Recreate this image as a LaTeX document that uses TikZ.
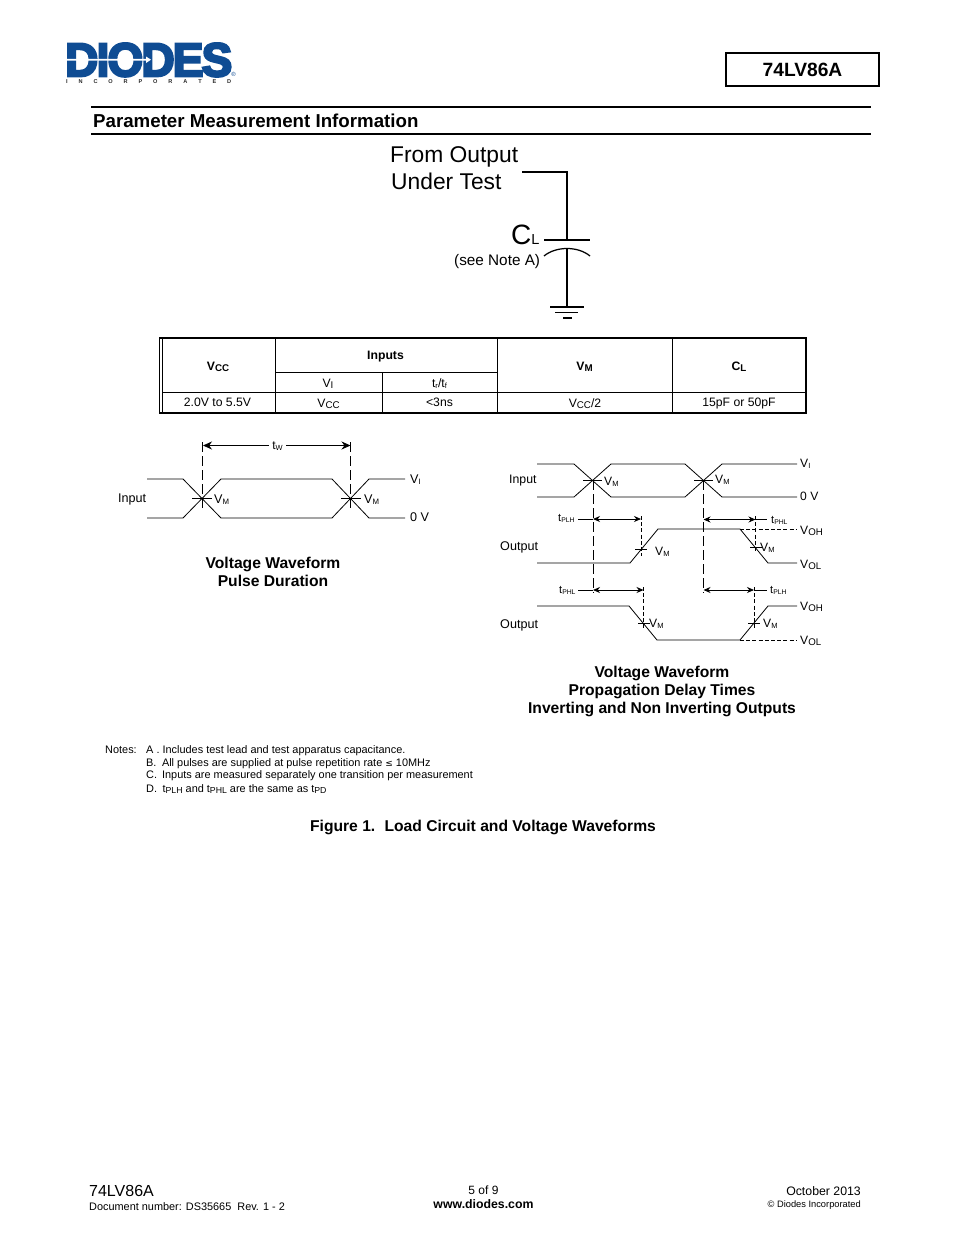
\documentclass[tikz,border=0pt]{standalone}
\usepackage{fontspec}
\usepackage{graphicx}
\setmainfont{Liberation Sans}
\newfontfamily\logofont[FakeBold=5,LetterSpace=-4]{Liberation Sans Bold}
\usetikzlibrary{arrows.meta}
\definecolor{logoblue}{HTML}{0F4C93}
\definecolor{logogrey}{HTML}{2A2A2A}
\newcommand{\fs}[1]{\fontsize{#1}{#1}\selectfont}
\newcommand{\sbs}[1]{\raisebox{-0.12em}{\scalebox{.62}{#1}}}
\newcommand{\sbl}[1]{\raisebox{-0.12em}{\scalebox{.8}{#1}}}
\newcommand{\tsb}[1]{\raisebox{-0.12em}{\scalebox{.8}{#1}}}
\tikzset{
  lt/.style={anchor=base west,inner sep=0pt,text=black},
  ct/.style={anchor=base,inner sep=0pt,text=black},
  rt/.style={anchor=base east,inner sep=0pt,text=black},
  wave/.style={draw=black,line width=.8pt,line join=miter},
  wire/.style={draw=black,line width=1.25pt},
  grid/.style={draw=black,line width=.8pt},
  frame/.style={draw=black,line width=1.5pt},
  rule/.style={draw=black,line width=1.3pt},
  longdash/.style={draw=black,line width=.8pt,dash pattern=on 10pt off 4pt},
  shortdash/.style={draw=black,line width=.8pt,dash pattern=on 4pt off 2.2pt},
  dim/.style={draw=black,line width=.8pt,{Stealth[length=7pt,width=6pt]}-{Stealth[length=7pt,width=6pt]}},
  lbl/.style={font=\fs{12.6}},
  slbl/.style={font=\fs{12.1}},
  cell/.style={font=\fs{12.2}},
  bcell/.style={font=\fs{12.2}\bfseries},
  capt/.style={font=\fs{15.65}\bfseries},
  note/.style={font=\fs{10.92}},
}
\begin{document}
\begin{tikzpicture}[x=1pt,y=-1pt]
\useasboundingbox (0,0) rectangle (954,1235);
\fill[white] (0,0) rectangle (954,1235);

% logo
\node[anchor=north west,inner sep=0pt,text=logoblue] (logo) at (65,43) {\resizebox{167pt}{33pt}{\logofont DIODES}};
\fill[white] (66,58.8) -- (146,58.8) -- (146,56.5) -- (151,59.7) -- (146,63) -- (146,60.6) -- (66,60.6) -- cycle;
\node[anchor=north west,inner sep=0pt,text=logogrey,font=\fs{5.6}\bfseries] (inc) at (66,79) {\makebox[165pt][s]{I\hfill N\hfill C\hfill O\hfill R\hfill P\hfill O\hfill R\hfill A\hfill T\hfill E\hfill D}};
\node[anchor=center,inner sep=0pt,text=logoblue,font=\fs{6}] (reg) at (233.5,74) {®};

% header
\node[draw=black,line width=1.3pt,minimum width=153pt,minimum height=33pt,inner sep=0pt,font=\fs{19.2}\bfseries] (part) at (802.5,69.5) {74LV86A};
\coordinate (r1a) at (91,107); \coordinate (r1b) at (871,107);
\coordinate (r2a) at (91,134); \coordinate (r2b) at (871,134);
\draw[rule] (r1a) -- (r1b);
\draw[rule] (r2a) -- (r2b);
\node[lt,font=\fs{18.7}\bfseries] (head) at (93,127) {Parameter Measurement Information};

% load circuit
\node[lt,font=\fs{22.8}] (from) at (390,162) {From Output};
\node[lt,font=\fs{22.8}] (under) at (391,189) {Under Test};
\node[lt,font=\fs{28}] (cl) at (511,244) {C\raisebox{0pt}{\fs{14.5}L}};
\node[lt,font=\fs{15.3}] (see) at (454,265) {(see Note A)};
\coordinate (w0) at (522,172); \coordinate (w1) at (567,172); \coordinate (pl) at (567,240);
\coordinate (pa) at (544,240); \coordinate (pb) at (590,240);
\coordinate (ca) at (544,256); \coordinate (cb) at (590,256); \coordinate (cm) at (567,248); \coordinate (gn) at (567,307);
\draw[wire] (w0) -- (w1) -- (pl);
\draw[wire] (pa) -- (pb);
\draw[wire] (ca) .. controls (556,246) and (578,246) .. (cb);
\draw[wire] (cm) -- (gn);
\draw[wire] (550,307) -- (584,307);
\draw[draw=black,line width=1pt] (555,312.5) -- (578,312.5);
\draw[wire] (563,318) -- (572,318);

% table
\draw[frame] (159.5,338) rectangle (806,413);
\draw[grid] (162,338) -- (162,413);
\draw[grid] (275.5,338) -- (275.5,413);
\draw[grid] (382,372) -- (382,413);
\draw[grid] (497,338) -- (497,413);
\draw[grid] (672,338) -- (672,413);
\draw[grid] (275.5,372) -- (497,372);
\draw[grid] (162,392) -- (806,392);
\node[ct,bcell] (t1) at (218,370.5) {V\tsb{CC}};
\node[ct,bcell] (t2) at (385.5,359) {Inputs};
\node[ct,bcell] (t3) at (584.5,370.5) {V\tsb{M}};
\node[ct,bcell] (t4) at (739,370.5) {C\tsb{L}};
\node[ct,cell] (t5) at (328,387) {V\tsb{I}};
\node[ct,cell] (t6) at (439.5,387) {t\sbs{r}/t\sbs{f}};
\node[ct,cell] (t7) at (217.5,406) {2.0V to 5.5V};
\node[ct,cell] (t8) at (328.5,407) {V\tsb{CC}};
\node[ct,cell] (t9) at (439.5,406) {<3ns};
\node[ct,cell] (t10) at (585,407) {V\tsb{CC}/2};
\node[ct,cell] (t11) at (739,406) {15pF or 50pF};

% pulse duration waveform
\draw[wave] (147,479) -- (183,479) -- (221,518) -- (332,518) -- (369,479) -- (405,479);
\draw[wave] (147,518) -- (183,518) -- (221,479) -- (332,479) -- (369,518) -- (405,518);
\draw[wave] (192,498.5) -- (212,498.5);
\draw[wave] (341,498.5) -- (361,498.5);
\draw[longdash] (202.5,442) -- (202.5,510);
\draw[longdash] (350.5,442) -- (350.5,510);
\node[ct,font=\fs{12}] (tw) at (277.5,449) {t\sbs{W}};
\coordinate (d1a) at (203,445.5); \coordinate (d1b) at (269,445.5);
\coordinate (d2a) at (286,445.5); \coordinate (d2b) at (350.5,445.5);
\draw[draw=black,line width=.8pt,{Stealth[length=9pt,width=8pt]}-] (d1a) -- (d1b);
\draw[draw=black,line width=.8pt,-{Stealth[length=9pt,width=8pt]}] (d2a) -- (d2b);
\node[lt,lbl] (in1) at (118,502) {Input};
\node[lt,lbl] (vm1) at (214,503) {V\sbs{M}};
\node[lt,lbl] (vm2) at (364,503) {V\sbs{M}};
\node[lt,lbl] (vi1) at (410,483) {V\sbs{I}};
\node[lt,lbl] (ov1) at (410,521) {0 V};
\node[ct,capt] (c1) at (273,568) {Voltage Waveform};
\node[ct,capt] (c2) at (273,586) {Pulse Duration};

% propagation delay waveform
\draw[wave] (537,464) -- (574,464) -- (611,497) -- (685,497) -- (722,464) -- (797,464);
\draw[wave] (537,497) -- (574,497) -- (611,464) -- (685,464) -- (722,497) -- (797,497);
\draw[wave] (583,480.5) -- (602,480.5);
\draw[wave] (694,480.5) -- (713,480.5);
\draw[longdash] (593,480) -- (593,593);
\draw[longdash] (703.5,480) -- (703.5,593);
\draw[wave] (537,563) -- (630,563) -- (658,529) -- (740,529) -- (768,563) -- (797,563);
\draw[shortdash] (740,529) -- (797,529);
\draw[wave] (537,606) -- (629,606) -- (657,640) -- (740,640) -- (768,606) -- (797,606);
\draw[shortdash] (740,640) -- (797,640);
\draw[wave] (635,549) -- (647,549);
\draw[wave] (750,547) -- (762,547);
\draw[wave] (638,623) -- (650,623);
\draw[wave] (748,623) -- (760,623);
\draw[shortdash] (641,516) -- (641,556);
\draw[shortdash] (755.5,516) -- (755.5,553);
\draw[shortdash] (643.5,587) -- (643.5,629);
\draw[shortdash] (754,587) -- (754,629);
\coordinate (p1a) at (593,519); \coordinate (p1b) at (641,519);
\coordinate (p2a) at (703.5,519.5); \coordinate (p2b) at (755.5,519.5);
\coordinate (p3a) at (593,590); \coordinate (p3b) at (643.5,590);
\coordinate (p4a) at (703.5,590); \coordinate (p4b) at (754,590);
\draw[dim] (p1a) -- (p1b);
\draw[dim] (p2a) -- (p2b);
\draw[dim] (p3a) -- (p3b);
\draw[dim] (p4a) -- (p4b);
\draw[wave] (578,519) -- (593,519);
\draw[wave] (578,590) -- (593,590);
\draw[wave] (755.5,519.5) -- (767,519.5);
\draw[wave] (754,590) -- (767,590);
\node[lt,font=\fs{12.3}] (in2) at (509,483) {Input};
\node[lt,font=\fs{12.6}] (o1) at (500,550) {Output};
\node[lt,font=\fs{12.6}] (o2) at (500,628) {Output};
\node[lt,slbl] (vm3) at (604,485) {V\sbs{M}};
\node[lt,slbl] (vm4) at (715,483) {V\sbs{M}};
\node[lt,slbl] (vm5) at (655,555) {V\sbs{M}};
\node[lt,slbl] (vm6) at (760,551) {V\sbs{M}};
\node[lt,slbl] (vm7) at (649,627) {V\sbs{M}};
\node[lt,slbl] (vm8) at (763,627) {V\sbs{M}};
\node[lt,slbl] (vi2) at (800,467) {V\sbs{I}};
\node[lt,slbl] (ov2) at (800,500) {0 V};
\node[lt,slbl] (voh1) at (800,534) {V\sbl{OH}};
\node[lt,slbl] (vol1) at (800,568) {V\sbl{OL}};
\node[lt,slbl] (voh2) at (800,610) {V\sbl{OH}};
\node[lt,slbl] (vol2) at (800,644) {V\sbl{OL}};
\node[lt,slbl,font=\fs{11}] (tp1) at (558,521) {t\sbs{PLH}};
\node[lt,slbl,font=\fs{11}] (tp2) at (771,523) {t\sbs{PHL}};
\node[lt,slbl,font=\fs{11}] (tp3) at (559,593) {t\sbs{PHL}};
\node[lt,slbl,font=\fs{11}] (tp4) at (770,593) {t\sbs{PLH}};
\node[ct,capt] (c3) at (662,677) {Voltage Waveform};
\node[ct,capt] (c4) at (662,695) {Propagation Delay Times};
\node[ct,capt] (c5) at (662,713) {Inverting and Non Inverting Outputs};

% notes
\node[lt,note] (n0) at (105,753) {Notes:};
\node[lt,note] (n1) at (146,753) {A . Includes test lead and test apparatus capacitance.};
\node[lt,note] (n2) at (146,766) {B.\hspace{5.5pt}All pulses are supplied at pulse repetition rate {\fontspec{DejaVu Sans}\fs{9}≤} 10MHz};
\node[lt,note] (n3) at (146,778) {C.\hspace{5pt}Inputs are measured separately one transition per measurement};
\node[lt,note] (n4) at (146,792) {D.\hspace{5.5pt}t\sbl{PLH} and t\sbl{PHL} are the same as t\sbl{PD}};
\node[ct,font=\fs{15.65}\bfseries] (fig) at (483,831) {Figure 1.\hspace{3.5pt} Load Circuit and Voltage Waveforms};

% footer
\node[lt,font=\fs{16}] (f1) at (89,1196) {74LV86A};
\node[lt,font=\fs{10.9}] (f2) at (89,1210) {Document number: DS35665\hspace{3pt} Rev. 1 - 2};
\node[ct,font=\fs{12}] (f3) at (483.5,1194) {5 of 9};
\node[ct,font=\fs{12.3}\bfseries] (f4) at (483.5,1208) {www.diodes.com};
\node[rt,font=\fs{12.3}] (f5) at (861,1195) {October 2013};
\node[rt,font=\fs{9.3}] (f6) at (861,1207) {© Diodes Incorporated};
\end{tikzpicture}
\end{document}
